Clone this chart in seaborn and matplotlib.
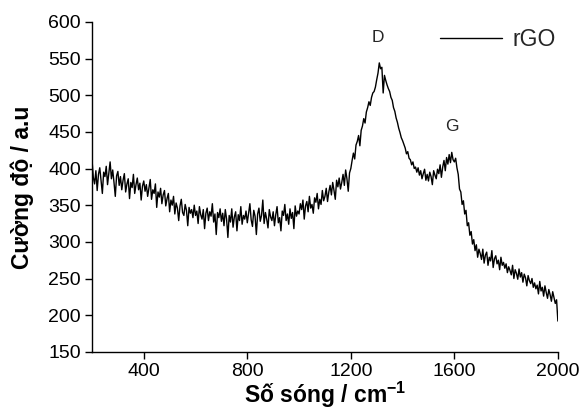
import numpy as np
import pandas as pd
import matplotlib
matplotlib.use("Agg")
import matplotlib.pyplot as plt
import seaborn as sns

# wavenumber grid (cm-1), 200..2000 every 5
wavenumber = np.arange(200, 2001, 5)

# intensity, one row = 100 cm-1
intensity = [
    412, 388, 379, 397, 370, 392, 401, 384, 366, 395, 389, 403, 378, 394, 409, 386, 398, 381, 362, 390,
    396, 377, 389, 371, 384, 393, 368, 379, 386, 359, 381, 374, 392, 366, 378, 387, 371, 380, 357, 376,
    383, 369, 378, 362, 374, 385, 358, 371, 366, 379, 347, 368, 361, 373, 352, 364, 370, 349, 359, 366,
    341, 357, 350, 362, 338, 353, 346, 329, 349, 358, 340, 336, 351, 343, 322, 347, 339, 344, 333, 350,
    336, 342, 325, 348, 337, 331, 344, 318, 339, 346, 329, 341, 335, 352, 327, 338, 310, 340, 333, 345,
    328, 339, 322, 344, 331, 306, 336, 327, 345, 320, 334, 341, 315, 337, 329, 348, 324, 336, 331, 342,
    326, 339, 352, 330, 321, 343, 335, 310, 338, 346, 328, 336, 357, 325, 340, 331, 319, 344, 334, 329,
    341, 322, 337, 348, 326, 333, 315, 342, 336, 351, 329, 338, 324, 345, 332, 340, 318, 349, 335, 342,
    338, 352, 344, 357, 331, 349, 355, 341, 362, 346, 351, 339, 360, 354, 366, 345, 358, 351, 370, 356,
    362, 373, 355, 368, 377, 364, 381, 370, 358, 384, 375, 387, 372, 381, 392, 377, 398, 386, 369, 394,
    400, 411, 421, 413, 432, 437, 445, 431, 452, 458, 468, 462, 477, 483, 491, 486, 497, 503, 505, 511,
    521, 530, 544, 536, 538, 503, 527, 520, 514, 509, 505, 497, 493, 483, 478, 469, 463, 455, 449, 442,
    438, 433, 428, 420, 423, 414, 412, 405, 409, 400, 402, 395, 401, 391, 397, 386, 393, 399, 384, 392,
    383, 395, 389, 378, 397, 391, 386, 399, 393, 405, 388, 402, 411, 397, 415, 406, 419, 408, 422, 412,
    409, 414, 401, 392, 372, 368, 351, 356, 338, 343, 322, 326, 309, 314, 297, 303, 288, 296, 279, 290,
    284, 276, 290, 271, 282, 286, 268, 279, 274, 288, 265, 277, 281, 270, 275, 262, 279, 268, 272, 264,
    270, 258, 266, 261, 255, 268, 250, 262, 257, 249, 263, 252, 258, 245, 256, 251, 240, 254, 247, 243,
    250, 238, 244, 236, 241, 229, 246, 233, 238, 226, 240, 231, 223, 235, 228, 219, 232, 224, 216, 221,
    192,
]

x_ticks = [400, 800, 1200, 1600, 2000]
y_ticks = [150, 200, 250, 300, 350, 400, 450, 500, 550, 600]

df = pd.DataFrame({"wavenumber": wavenumber, "intensity": intensity})

sns.set_style("ticks")
plt.rcParams["font.family"] = ["Liberation Sans", "DejaVu Sans"]
plt.rcParams["mathtext.fontset"] = "custom"
plt.rcParams["mathtext.bf"] = "Liberation Sans:bold"
plt.rcParams["mathtext.default"] = "bf"

fig = plt.figure(figsize=(5.86, 4.12), dpi=100)
ax = fig.add_axes([0.157, 0.146, 0.795, 0.801])

sns.lineplot(data=df, x="wavenumber", y="intensity", color="black",
             linewidth=1.0, label="rGO", ax=ax)

ax.set_xlim(200, 2000)
ax.set_ylim(150, 600)
ax.set_xticks(x_ticks)
ax.set_yticks(y_ticks)
ax.tick_params(labelsize=14, length=5, width=1, colors="black",
               labelcolor="black", direction="out", pad=3)
ax.set_xlabel("Số sóng / cm$^{-1}$", fontsize=16.5, fontweight="bold",
              labelpad=0, color="black")
ax.set_ylabel("Cường độ / a.u", fontsize=16.5, fontweight="bold",
              labelpad=10, color="black")
sns.despine(ax=ax)
for s in ["left", "bottom"]:
    ax.spines[s].set_color("black")
    ax.spines[s].set_linewidth(1)

ax.text(1305, 578, "D", fontsize=12.5, ha="center", va="center")
ax.text(1590, 457, "G", fontsize=12.5, ha="center", va="center")

leg = ax.legend(loc="upper right", frameon=False, fontsize=16.5,
                handlelength=2.7, handletextpad=0.45,
                bbox_to_anchor=(1.04, 1.045))
for line in leg.get_lines():
    line.set_linewidth(1)

fig.savefig("out.png", dpi=100)
